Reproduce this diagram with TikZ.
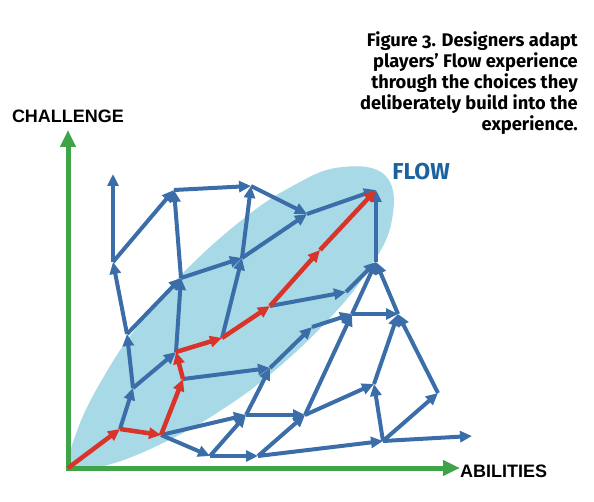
\documentclass[tikz,border=0pt]{standalone}
\usepackage{fontspec}
\usetikzlibrary{arrows.meta}
\newfontfamily\capfont{Fira Sans}[Numbers=OldStyle]
\newfontfamily\axfont{Liberation Sans}
\newfontfamily\flowfont{Fira Sans}
\definecolor{ellcol}{HTML}{A7D9E7}
\definecolor{bluecol}{HTML}{3B6EA8}
\definecolor{redcol}{HTML}{D8342A}
\definecolor{greencol}{HTML}{3FA447}
\definecolor{flowcol}{HTML}{1B62A0}
\tikzset{
  blueedge/.style={draw=bluecol, line width=4pt, -{Triangle[length=12pt,width=11pt]}},
  rededge/.style={draw=redcol, line width=4.5pt, -{Triangle[length=12pt,width=11pt]}},
  axisedge/.style={draw=greencol, line width=5pt, -{Triangle[length=17pt,width=15pt]}},
}
\begin{document}
\begin{tikzpicture}[x=1pt,y=-1pt]
\useasboundingbox (0,0) rectangle (594,502);
% background egg-shaped region
\begin{scope}[shift={(72,467)}, rotate=42.8]
\fill[ellcol] plot[smooth cycle, tension=0.7] coordinates {
  (0,0) (30,-24) (89,-46) (150,-60) (215,-67) (290,-66) (350,-57) (400,-38) (428,0)
  (400,38) (350,57) (290,66) (215,67) (150,60) (89,46) (30,24)};
\end{scope}
% coordinates
\coordinate (orig) at (68,468);
\coordinate (T1) at (113,174);
\coordinate (A) at (113,262);
\coordinate (B) at (174,190);
\coordinate (C) at (251,186);
\coordinate (D) at (181,278);
\coordinate (G) at (242,258);
\coordinate (F) at (307,214);
\coordinate (FL) at (376,190);
\coordinate (H) at (376,262);
\coordinate (I) at (346,292);
\coordinate (J) at (352,314);
\coordinate (M) at (398,314);
\coordinate (K) at (312,327);
\coordinate (U) at (270,368);
\coordinate (S) at (246,415);
\coordinate (L) at (305,415);
\coordinate (N) at (374,384);
\coordinate (O) at (438,393);
\coordinate (P) at (383,441);
\coordinate (Pend) at (472,436);
\coordinate (Q) at (258,456);
\coordinate (R) at (210,456);
\coordinate (W1) at (120,429);
\coordinate (W2) at (161,435);
\coordinate (V) at (183,379);
\coordinate (E) at (176,352);
\coordinate (X) at (222,338);
\coordinate (Y) at (270,306);
\coordinate (Z) at (320,250);
\coordinate (AA) at (133,388);
\coordinate (BB) at (127,334);
\coordinate (yend) at (68,130);
\coordinate (xend) at (460,468);
\coordinate (corner) at (68,470.5);
\coordinate (cornerx) at (65.5,468);
% axes
\draw[axisedge] (corner) -- (yend);
\draw[axisedge] (cornerx) -- (xend);
% blue edges
\foreach \a/\b in {A/T1, A/B, BB/A, BB/D, AA/BB, W1/AA, AA/E, E/D, D/B, D/G, B/C, G/C, C/F, G/F, F/FL, X/G, V/U, Y/I, I/H, J/H, M/H, H/FL, J/M, K/J, L/J, U/K, S/U, W2/S, R/S, W2/R, R/Q, Q/L, S/L, Q/P, L/N, P/N, N/M, P/O, O/M, P/Pend}
  \draw[blueedge] (\a) -- (\b);
% red path
\foreach \a/\b in {orig/W1, W1/W2, W2/V, V/E, E/X, X/Y, Y/Z, Z/FL}
  \draw[rededge] (\a) -- (\b);
% labels
\node[font=\axfont\bfseries\fontsize{18}{18}\selectfont, inner sep=0pt] (lchal) at (68,116) {CHALLENGE};
\node[font=\axfont\bfseries\fontsize{18}{18}\selectfont, inner sep=0pt, anchor=west] (labil) at (460,471) {ABILITIES};
\node[font=\flowfont\bfseries\fontsize{23}{23}\selectfont, text=flowcol, inner sep=0pt] (lflow) at (421,172) {FLOW};
\node[font=\capfont\bfseries\fontsize{18.3}{21.2}\selectfont, align=right, inner sep=0pt, anchor=north east] (cap) at (578,31) {Figure 3. Designers adapt\\players’ Flow experience\\through the choices they\\deliberately build into the\\experience.};
\end{tikzpicture}
\end{document}
